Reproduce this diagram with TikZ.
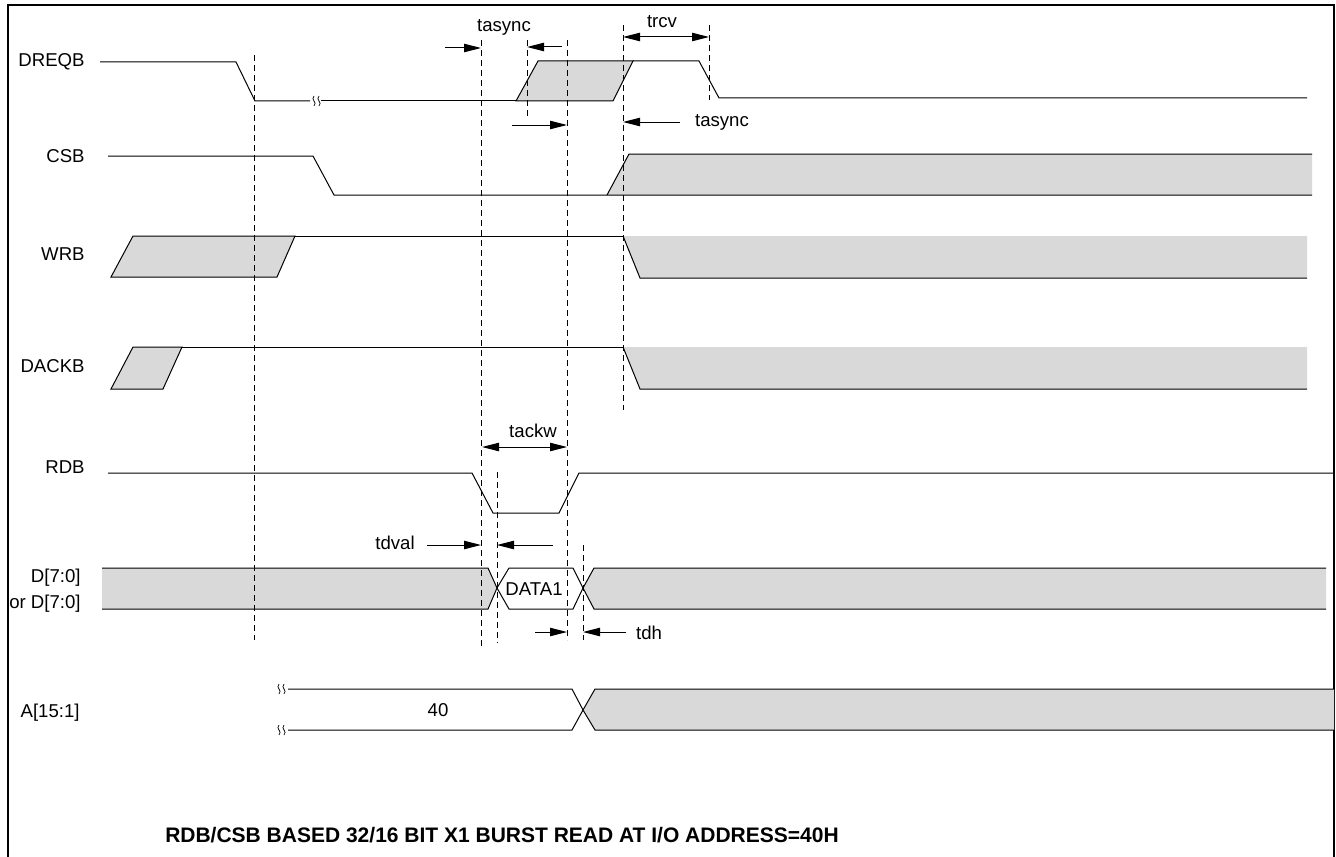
\documentclass[tikz,border=0pt]{standalone}
\usepackage{fontspec}
\setmainfont{Liberation Sans}
\usetikzlibrary{arrows.meta}
\definecolor{busgray}{HTML}{D9D9D9}

\tikzset{
  brk/.pic={
    \draw[line width=0.35pt] (-3,-5) .. controls (-7,-1) and (1,1) .. (-3,5);
    \draw[line width=0.35pt] (2,-5) .. controls (-2,-1) and (6,1) .. (2,5);
  }
}

\begin{document}
\begin{tikzpicture}[x=0.5pt,y=-0.5pt,
   sig/.style={line width=0.5pt},
   bus/.style={line width=0.5pt,fill=busgray},
   tmark/.style={line width=0.5pt,dash pattern=on 3pt off 2pt},
   dim/.style={line width=0.5pt,-{Triangle[length=8.5pt,width=4.2pt]}},
   dimb/.style={line width=0.5pt,{Triangle[length=8.5pt,width=4.2pt]}-{Triangle[length=8.5pt,width=4.2pt]}},
   lbl/.style={font=\fontsize{9.3}{10}\selectfont,inner sep=0pt},
   signame/.style={lbl,anchor=east}
    ]
  \useasboundingbox (0,0) rectangle (1336,856);
  \draw[line width=1.1pt] (8,870) -- (8,5) -- (1334,5) -- (1334,870);

  % -- signal names
  \node[signame] at (85,62) (nDREQB) {DREQB};
  \node[signame] at (85,156) (nCSB) {CSB};
  \node[signame] at (85,254) (nWRB) {WRB};
  \node[signame] at (85,366) (nDACKB) {DACKB};
  \node[signame] at (85,467) (nRDB) {RDB};
  \node[signame] at (81,578) (nD) {D[7:0]};
  \node[signame] at (81,604) (nDor) {or D[7:0]};
  \node[signame] at (80,713) (nA) {A[15:1]};

  % -- DREQB
  \draw[sig] (100,62) -- (236,62) -- (255,101) -- (310,101);
  \pic at (317,101) {brk};
  \draw[sig] (321,101) -- (516,101);
  \draw[bus] (516,101) -- (538,61) -- (633,61) -- (613,101) -- cycle;
  \draw[sig] (633,61) -- (699,61) -- (719,98) -- (1307,98);

  % -- CSB
  \fill[busgray] (607,195) -- (629,154) -- (1312,154) -- (1312,195) -- cycle;
  \draw[sig] (108,156) -- (313,156) -- (334,195) -- (1312,195);
  \draw[sig] (607,195) -- (629,154) -- (1312,154);

  % -- WRB
  \draw[bus] (111,277) -- (133,236) -- (295,236) -- (277,277) -- cycle;
  \draw[sig] (295,236) -- (1307,236);
  \fill[busgray] (623,236) -- (640,278) -- (1307,278) -- (1307,236) -- cycle;
  \draw[sig] (623,236) -- (640,278) -- (1307,278);

  % -- DACKB
  \draw[bus] (111,389) -- (133,347) -- (182,347) -- (163,389) -- cycle;
  \draw[sig] (182,347) -- (1307,347);
  \fill[busgray] (623,347) -- (640,389) -- (1307,389) -- (1307,347) -- cycle;
  \draw[sig] (623,347) -- (640,389) -- (1307,389);

  % -- RDB
  \draw[sig] (108,473) -- (472,473) -- (493,513) -- (559,513) -- (579,473) -- (1334,473);

  % -- data bus
  \fill[busgray] (102,568) -- (488,568) -- (497,588) -- (488,609) -- (102,609) -- cycle;
  \draw[sig] (102,568) -- (488,568) -- (497,588) -- (488,609) -- (102,609);
  \draw[sig] (497,588) -- (509,568) -- (573,568) -- (583,588) -- (573,609) -- (509,609) -- cycle;
  \node[lbl] at (534,589) (data1) {DATA1};
  \fill[busgray] (583,588) -- (594,568) -- (1326,568) -- (1326,609) -- (594,609) -- cycle;
  \draw[sig] (1326,568) -- (594,568) -- (583,588) -- (594,609) -- (1326,609);

  % -- address bus
  \pic at (282,689) {brk};
  \pic at (282,730) {brk};
  \draw[sig] (288,689) -- (572,689) -- (583,710) -- (572,730) -- (288,730);
  \node[lbl] at (438,710) (addr) {40};
  \fill[busgray] (583,710) -- (595,689) -- (1334,689) -- (1334,730) -- (595,730) -- cycle;
  \draw[sig] (1334,689) -- (595,689) -- (583,710) -- (595,730) -- (1334,730);

  % -- timing marks
  \draw[tmark] (254,55) -- (254,640);
  \draw[tmark] (481,40) -- (481,648);
  \draw[tmark] (527,40) -- (527,118);
  \draw[tmark] (567,40) -- (567,640);
  \draw[tmark] (623,25) -- (623,410);
  \draw[tmark] (709,25) -- (709,100);
  \draw[tmark] (497,472) -- (497,643);
  \draw[tmark] (583,545) -- (583,640);

  % -- arrows
  \node[lbl] at (504,27) (tasync1) {tasync};
  \draw[dim] (445,48) -- (481,48);
  \draw[dim] (562,47) -- (527,47);
  \draw[dim] (512,125) -- (567,125);
  \node[lbl] at (662,22) (trcv) {trcv};
  \draw[dimb] (623,37) -- (709,37);
  \node[lbl] at (722,122) (tasync2) {tasync};
  \draw[dim] (680,122) -- (623,122);
  \node[lbl] at (533,431) (tackw) {tackw};
  \draw[dimb] (482,447) -- (567,447);
  \node[lbl] at (395,543) (tdval) {tdval};
  \draw[dim] (427,545) -- (481,545);
  \draw[dim] (553,545) -- (497,545);
  \draw[dim] (535,632) -- (567,632);
  \draw[dim] (626,632) -- (583,632);
  \node[lbl] at (649,633) (tdh) {tdh};

  \node[font=\fontsize{10.5}{12}\selectfont\bfseries,inner sep=0pt] at (502,835) (title)
    {RDB/CSB BASED 32/16 BIT X1 BURST READ AT I/O ADDRESS=40H};
\end{tikzpicture}
\end{document}
